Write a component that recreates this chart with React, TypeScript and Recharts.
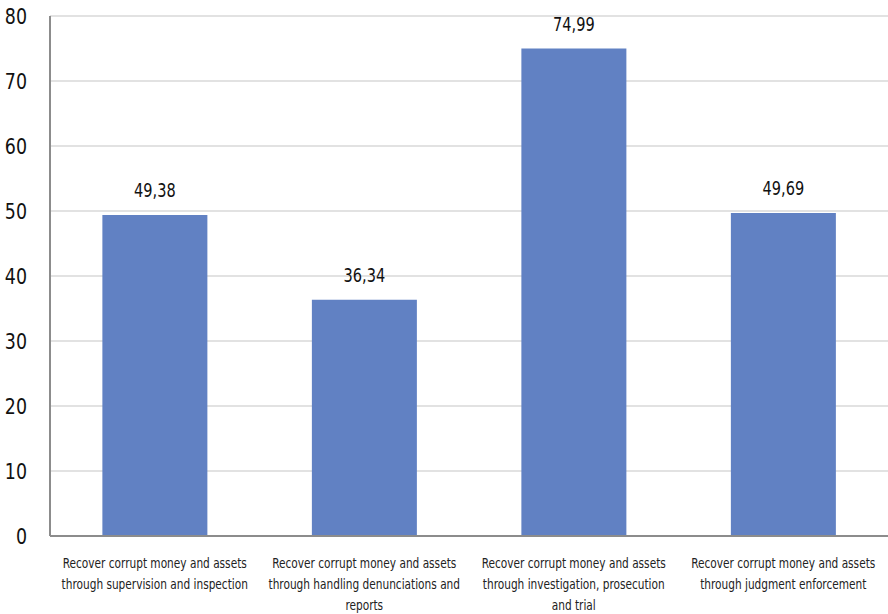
import { BarChart, Bar, XAxis, YAxis, CartesianGrid, LabelList } from 'recharts';

const categories = [
  'Recover corrupt money and assets\nthrough supervision and inspection',
  'Recover corrupt money and assets\nthrough handling denunciations and\nreports',
  'Recover corrupt money and assets\nthrough investigation, prosecution\nand trial',
  'Recover corrupt money and assets\nthrough judgment enforcement',
];
const values = [49.38, 36.34, 74.99, 49.69];
const yTicks = [0, 10, 20, 30, 40, 50, 60, 70, 80];

const FONT = '"DejaVu Sans Condensed", "DejaVu Sans", sans-serif';

const data = categories.map((name, i) => ({ name, value: values[i] }));

const CategoryTick = (props: any) => {
  const { x, y, payload } = props;
  const lines = String(payload.value).split('\n');
  return (
    <g transform={`translate(${x},${y}) scale(0.84,1)`}>
      {lines.map((line, i) => (
        <text
          key={i}
          x={0}
          y={24 + i * 21}
          textAnchor="middle"
          fontFamily={FONT}
          fontSize={14}
          style={{ fontStretch: 'condensed' }}
          fill="#222"
        >
          {line}
        </text>
      ))}
    </g>
  );
};

const ValueLabel = (props: any) => {
  const { x, y, width, value } = props;
  const cx = x + width / 2;
  return (
    <g transform={`translate(${cx},${y - 18}) scale(0.85,1)`}>
      <text x={0} y={0} textAnchor="middle" fontFamily={FONT} fontSize={19} fill="#111">
        {Number(value).toFixed(2).replace('.', ',')}
      </text>
    </g>
  );
};

const YTick = (props: any) => {
  const { x, y, payload } = props;
  return (
    <g transform={`translate(${x},${y}) scale(0.88,1)`}>
      <text x={0} y={0} dy="0.36em" textAnchor="end" fontFamily={FONT} fontSize={22} fill="#111">
        {payload.value}
      </text>
    </g>
  );
};

export default function App() {
  return (
    <div style={{ width: 888, height: 614, background: '#fff' }}>
      <style>{'body{margin:0}'}</style>
      <BarChart
        width={888}
        height={614}
        data={data}
        margin={{ top: 16, right: 0, left: 0, bottom: 0 }}
        barCategoryGap="25%"
      >
        <CartesianGrid vertical={false} stroke="#d9d9d9" strokeWidth={1.5} />
        <XAxis
          dataKey="name"
          height={78}
          interval={0}
          tickLine={false}
          axisLine={{ stroke: '#8c8c8c', strokeWidth: 2 }}
          tick={<CategoryTick />}
        />
        <YAxis
          width={50}
          domain={[0, 80]}
          ticks={yTicks}
          tickLine={false}
          axisLine={{ stroke: '#8c8c8c', strokeWidth: 2 }}
          tick={<YTick />}
          tickMargin={17}
        />
        <Bar dataKey="value" fill="#6181C3" isAnimationActive={false}>
          <LabelList dataKey="value" content={<ValueLabel />} />
        </Bar>
      </BarChart>
    </div>
  );
}
